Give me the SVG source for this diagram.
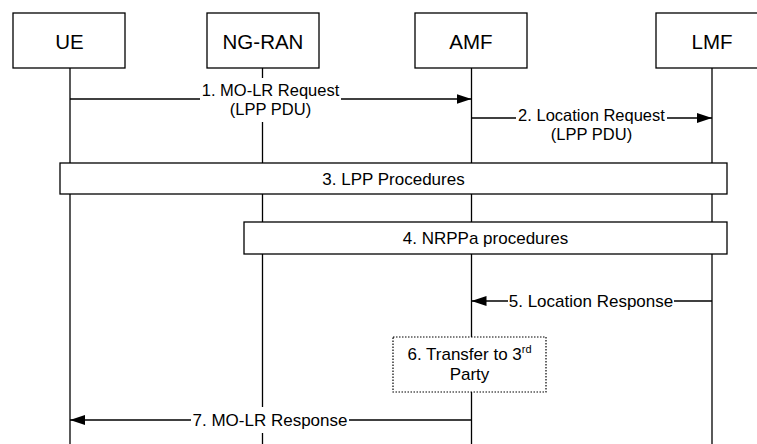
<svg xmlns="http://www.w3.org/2000/svg" width="757" height="444" viewBox="0 0 757 444">
<style>
.box{fill:#fff;stroke:#000;stroke-width:1.3}
.life{stroke:#000;stroke-width:1.3;fill:none}
.hdr{font-family:"Liberation Sans",Arial,sans-serif;font-size:20.5px;fill:#000;text-anchor:middle}
.lbl{font-family:"Liberation Sans",Arial,sans-serif;font-size:17px;fill:#000;text-anchor:middle}
.sm{font-size:16.5px}
.msg{stroke:#000;stroke-width:1.3;fill:none}
.bg{fill:#fff;stroke:none}
.dot{fill:#fff;stroke:#000;stroke-width:1.2;stroke-dasharray:1.5 1.5}
</style>
<defs>
<marker id="ah" markerUnits="userSpaceOnUse" markerWidth="16" markerHeight="11" refX="15" refY="5" orient="auto">
<path d="M0,0 L15,5 L0,10 z" fill="#000"/>
</marker>
</defs>
<rect width="757" height="444" fill="#fff"/>
<g id="UE">
<line class="life" x1="70" y1="68" x2="70" y2="444"/>
<rect class="box" x="13" y="13" width="112" height="55"/>
<text class="hdr" x="69.5" y="48.5">UE</text>
</g>
<g id="NG-RAN">
<line class="life" x1="262.5" y1="68" x2="262.5" y2="444"/>
<rect class="box" x="207" y="13" width="112" height="55"/>
<text class="hdr" x="263" y="48.5">NG-RAN</text>
</g>
<g id="AMF">
<line class="life" x1="471.5" y1="68" x2="471.5" y2="444"/>
<rect class="box" x="415" y="13" width="112" height="55"/>
<text class="hdr" x="471" y="48.5">AMF</text>
</g>
<g id="LMF">
<line class="life" x1="712" y1="68" x2="712" y2="444"/>
<rect class="box" x="656" y="13" width="112" height="55"/>
<text class="hdr" x="712" y="48.5">LMF</text>
</g>
<g id="step3">
<rect class="box" x="60" y="163" width="667" height="31"/>
<text class="lbl" x="393.5" y="184.5">3. LPP Procedures</text>
</g>
<g id="step4">
<rect class="box" x="244" y="222" width="483" height="32"/>
<text class="lbl" x="485.5" y="244">4. NRPPa procedures</text>
</g>
<g id="step6">
<rect class="dot" x="393" y="337" width="153" height="55"/>
<text class="lbl" x="469.5" y="360">6. Transfer to 3<tspan font-size="11" dy="-7">rd</tspan></text>
<text class="lbl" x="469.5" y="380">Party</text>
</g>
<g id="connectors">
<g id="m1">
<line class="msg" x1="70" y1="99" x2="471.5" y2="99" marker-end="url(#ah)"/>
<rect class="bg" x="200" y="78" width="141" height="44"/>
<text class="lbl sm" x="270.5" y="96">1. MO-LR Request</text>
<text class="lbl sm" x="270.5" y="114.5">(LPP PDU)</text>
</g>
<g id="m2">
<line class="msg" x1="471.5" y1="118" x2="712" y2="118" marker-end="url(#ah)"/>
<rect class="bg" x="516" y="105" width="151" height="38"/>
<text class="lbl sm" x="591.5" y="121">2. Location Request</text>
<text class="lbl sm" x="591.5" y="139.5">(LPP PDU)</text>
</g>
<g id="m5">
<line class="msg" x1="712" y1="301" x2="471.5" y2="301" marker-end="url(#ah)"/>
<rect class="bg" x="508" y="292" width="166" height="18"/>
<text class="lbl" x="591" y="307">5. Location Response</text>
</g>
<g id="m7">
<line class="msg" x1="471.5" y1="420" x2="70" y2="420" marker-end="url(#ah)"/>
<rect class="bg" x="191" y="407" width="158" height="26"/>
<text class="lbl" x="270" y="426">7. MO-LR Response</text>
</g>
</g>
</svg>
